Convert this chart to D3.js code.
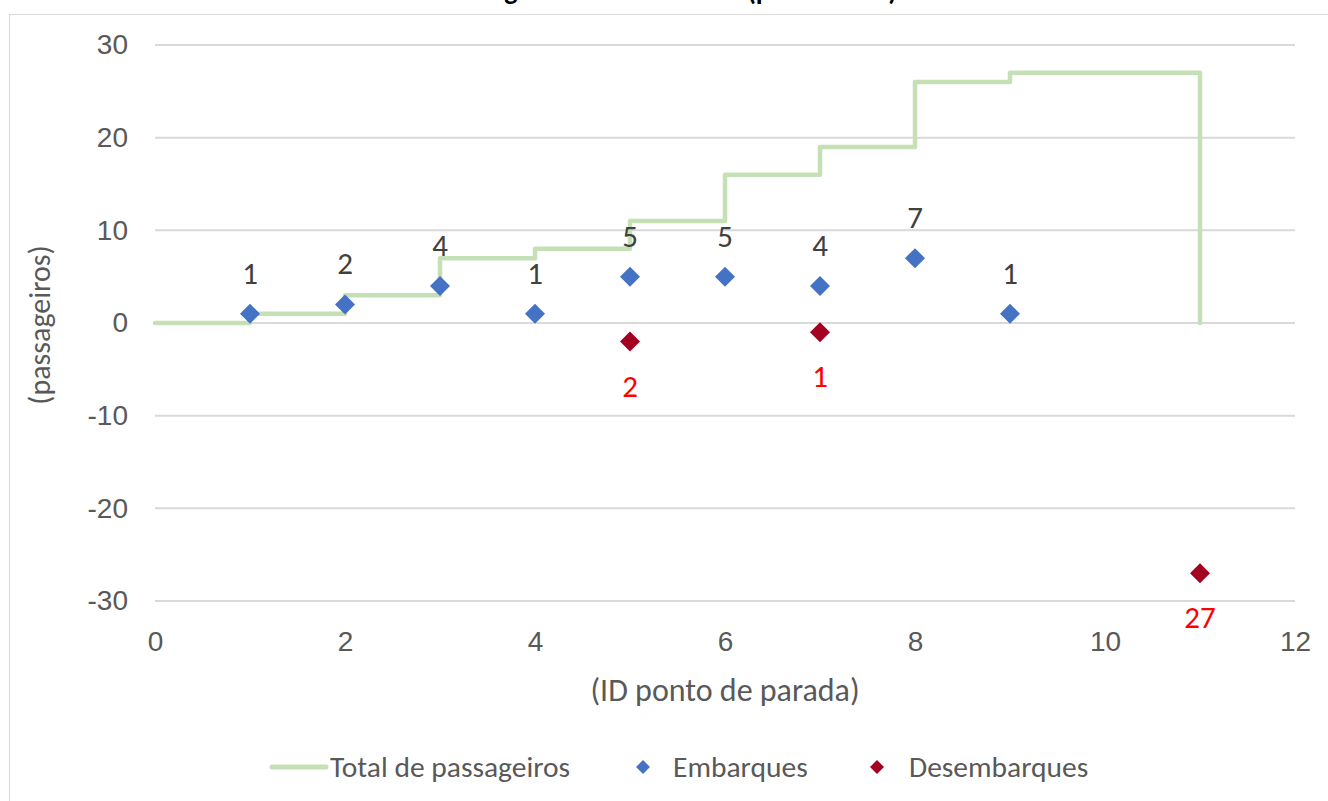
<!DOCTYPE html>
<html><head><meta charset="utf-8">
<script src="https://cdn.jsdelivr.net/npm/d3@7"></script>
<style>body{margin:0;background:#fff;} svg{display:block;font-family:Carlito,Calibri,Lato,"Open Sans",sans-serif;}</style>
</head><body>
<svg id="c" width="1328" height="801"></svg>
<script>
const titleText = "Carregamento da linha 10 (por sentido)";
const xTitle = "(ID ponto de parada)";
const yTitle = "(passageiros)";
const seriesNames = ["Total de passageiros","Embarques","Desembarques"];
const totalX = [0,1,2,3,4,5,6,7,8,9,11,11];
const totalY = [0,1,3,7,8,11,16,19,26,27,27,0];
const embX = [1,2,3,4,5,6,7,8,9];
const embY = [1,2,4,1,5,5,4,7,1];
const desX = [5,7,11];
const desY = [-2,-1,-27];
const xTicks = [0,2,4,6,8,10,12];
const yTicks = [-30,-20,-10,0,10,20,30];

const svg = d3.select("#c");
const x = d3.scaleLinear().domain([0,12]).range([155,1295]);
const y = d3.scaleLinear().domain([-30,30]).range([601,45]);

svg.append("rect").attr("x",9.5).attr("y",14.5).attr("width",1340).attr("height",800)
  .attr("fill","none").attr("stroke","#d9d9d9");
svg.append("text").attr("x",897).attr("y",0).attr("text-anchor","end")
  .attr("font-weight","bold").attr("font-size",28).attr("fill","#000").text(titleText);

// grid
svg.append("g").selectAll("line").data(yTicks).join("line")
  .attr("x1",x(0)).attr("x2",x(12)).attr("y1",d=>y(d)).attr("y2",d=>y(d))
  .attr("stroke","#d9d9d9").attr("stroke-width",2);

// axes labels
const yAxis = d3.axisLeft(y).tickValues(yTicks).tickFormat(d=>String(d)).tickSize(0).tickPadding(27);
const gy = svg.append("g").attr("transform",`translate(${x(0)},0)`).call(yAxis);
gy.select(".domain").remove();
gy.selectAll("text").attr("font-size",28).attr("fill","#595959").attr("font-family",null);
const xAxis = d3.axisBottom(x).tickValues(xTicks).tickFormat(d=>String(d)).tickSize(0).tickPadding(30);
const gx = svg.append("g").attr("transform",`translate(0,${y(-30)})`).call(xAxis);
gx.select(".domain").remove();
gx.selectAll("text").attr("font-size",28).attr("fill","#595959").attr("font-family",null);

svg.append("text").attr("x",725).attr("y",701).attr("text-anchor","middle")
  .attr("font-size",32).attr("fill","#595959").text(xTitle);
svg.append("text").attr("transform",`translate(50,${y(0)+2}) rotate(-90)`).attr("text-anchor","middle")
  .attr("font-size",30).attr("fill","#595959").text(yTitle);

// step line
const totalData = totalX.map((v,i)=>[v,totalY[i]]);
const line = d3.line().x(d=>x(d[0])).y(d=>y(d[1])).curve(d3.curveStepAfter);
svg.append("path").datum(totalData).attr("d",line).attr("fill","none")
  .attr("stroke","#c5e0b4").attr("stroke-width",4.5).attr("stroke-linejoin","round").attr("stroke-linecap","round");

const diamond = (s)=>`M0,${-s}L${s},0L0,${s}L${-s},0Z`;
const emb = embX.map((v,i)=>[v,embY[i]]);
const des = desX.map((v,i)=>[v,desY[i]]);
svg.append("g").selectAll("path").data(emb).join("path")
  .attr("d",diamond(10)).attr("transform",d=>`translate(${x(d[0])},${y(d[1])})`).attr("fill","#4472c4");
svg.append("g").selectAll("path").data(des).join("path")
  .attr("d",diamond(10)).attr("transform",d=>`translate(${x(d[0])},${y(d[1])})`).attr("fill","#a50021");
svg.append("g").selectAll("text").data(emb).join("text")
  .attr("x",d=>x(d[0])).attr("y",d=>y(d[1])-30).attr("text-anchor","middle")
  .attr("font-size",31).attr("fill","#404040").text(d=>d[1]);
svg.append("g").selectAll("text").data(des).join("text")
  .attr("x",d=>x(d[0])).attr("y",d=>y(d[1])+55).attr("text-anchor","middle")
  .attr("font-size",31).attr("fill","#ff0000").text(d=>Math.abs(d[1]));

// legend
const lg = svg.append("g");
lg.append("line").attr("x1",272).attr("x2",326).attr("y1",767).attr("y2",767)
  .attr("stroke","#c5e0b4").attr("stroke-width",5).attr("stroke-linecap","round");
lg.append("text").attr("x",330).attr("y",777).attr("font-size",29.5).attr("fill","#595959").text(seriesNames[0]);
lg.append("path").attr("d",diamond(7)).attr("transform","translate(643,767)").attr("fill","#4472c4");
lg.append("text").attr("x",673).attr("y",777).attr("font-size",29.5).attr("fill","#595959").text(seriesNames[1]);
lg.append("path").attr("d",diamond(7)).attr("transform","translate(877,767)").attr("fill","#a50021");
lg.append("text").attr("x",909).attr("y",777).attr("font-size",29.5).attr("fill","#595959").text(seriesNames[2]);
</script>
</body></html>
